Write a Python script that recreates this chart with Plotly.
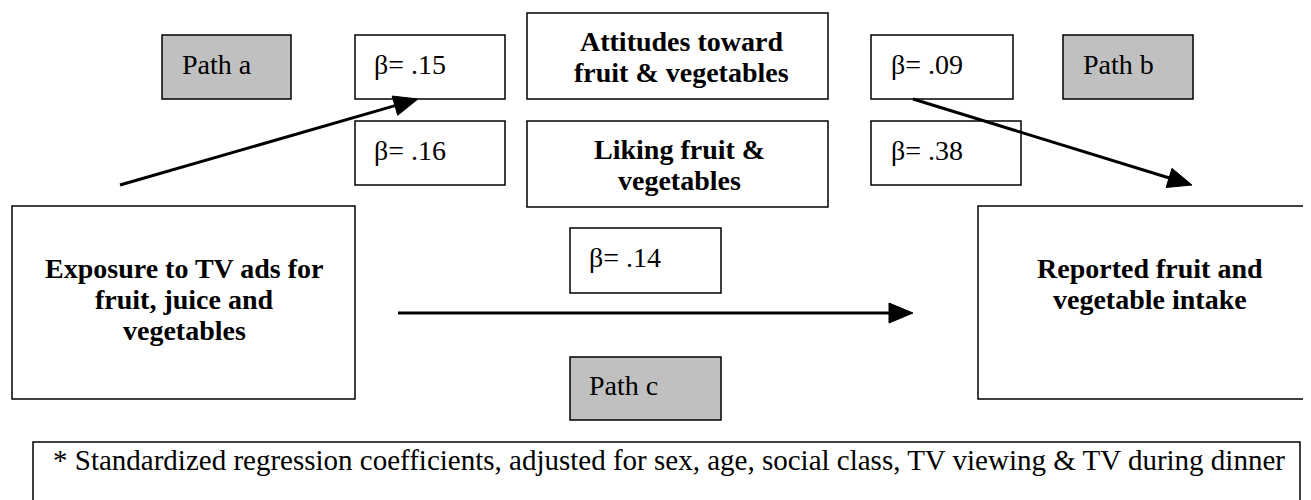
import plotly.graph_objects as go
import math

# ---- data (text content of the path diagram) ----
path_labels = ["Path a", "Path b", "Path c"]
coef_labels = ["β= .15", "β= .16", "β= .09", "β= .38", "β= .14"]
predictor_lines = ["Exposure to TV ads for", "fruit, juice and", "vegetables"]
outcome_lines = ["Reported fruit and", "vegetable intake"]
mediator1_lines = ["Attitudes toward", "fruit & vegetables"]
mediator2_lines = ["Liking fruit &", "vegetables"]
footnote = "* Standardized regression coefficients, adjusted for sex, age, social class, TV viewing & TV during dinner"

# ---- layout geometry (pixel space of the 1311x500 window) ----
W, H = 1311, 500
OFF = 8  # page body margin
FONT = "Liberation Serif"
FS = 28
GRAY = "#c0c0c0"

boxes = {
    "path_a": (162, 35, 291, 99, GRAY),
    "b15": (355, 35, 505, 99, "white"),
    "att": (527, 13, 828, 99, "white"),
    "b09": (871, 35, 1013, 99, "white"),
    "path_b": (1063, 35, 1193, 99, GRAY),
    "b16": (355, 121, 505, 185, "white"),
    "lik": (527, 121, 828, 207, "white"),
    "b38": (871, 121, 1021, 185, "white"),
    "exp": (12, 206, 355, 399, "white"),
    "rep": (978, 206, 1325, 399, "white"),
    "b14": (570, 228, 721, 293, "white"),
    "path_c": (570, 357, 721, 420, GRAY),
    "foot": (33, 442, 1300, 510, "white"),
}

fig = go.Figure()
shapes = []
annotations = []

for key, (x0, y0, x1, y1, fill) in boxes.items():
    shapes.append(dict(type="rect", xref="x", yref="y", x0=x0, y0=y0, x1=x1, y1=y1,
                       fillcolor=fill, line=dict(color="black", width=1.5), layer="below"))

def arrow(x0, y0, x1, y1, L=24, hw=10):
    dx, dy = x1 - x0, y1 - y0
    d = math.hypot(dx, dy)
    ux, uy = dx / d, dy / d
    bx, by = x1 - ux * L, y1 - uy * L
    px, py = -uy, ux
    shapes.append(dict(type="line", xref="x", yref="y", x0=x0, y0=y0, x1=bx + ux * 2, y1=by + uy * 2,
                       line=dict(color="black", width=3)))
    p = f"M {x1},{y1} L {bx + px*hw},{by + py*hw} L {bx - px*hw},{by - py*hw} Z"
    shapes.append(dict(type="path", xref="x", yref="y", path=p, fillcolor="black",
                       line=dict(color="black", width=1)))

arrow(120, 185, 418, 99)
arrow(913, 99, 1192, 185)
arrow(398, 313, 913, 313)

def text(x, y, s, anchor="left", bold=False, size=FS):
    annotations.append(dict(x=x, y=y, xref="x", yref="y", text=(f"<b>{s}</b>" if bold else s),
                            showarrow=False, xanchor=anchor, yanchor="middle",
                            font=dict(family=FONT, size=size, color="black")))

# path labels
text(180, 64, path_labels[0])
text(1081, 64, path_labels[1])
text(587, 385, path_labels[2])

# coefficients
coef_pos = [(372, 64), (372, 150), (889, 64), (889, 150), (587, 257)]
for (x, y), s in zip(coef_pos, coef_labels):
    text(x, y, s)

# bold node labels
def block(cx, ys, lines):
    for y, s in zip(ys, lines):
        text(cx, y, s, anchor="center", bold=True)

block(681, [41, 72], mediator1_lines)
block(679, [149, 180], mediator2_lines)
block(184, [268, 299, 330], predictor_lines)
block(1150, [268, 299], outcome_lines)

# footnote
text(51, 460, footnote, size=29)

fig.update_layout(
    width=W - OFF, height=H - OFF, margin=dict(l=0, r=0, t=0, b=0),
    paper_bgcolor="white", plot_bgcolor="white",
    xaxis=dict(range=[OFF, W], visible=False, fixedrange=True),
    yaxis=dict(range=[H, OFF], visible=False, fixedrange=True),
    shapes=shapes, annotations=annotations, showlegend=False,
)
fig.write_html("out.html", config={"displayModeBar": False})
